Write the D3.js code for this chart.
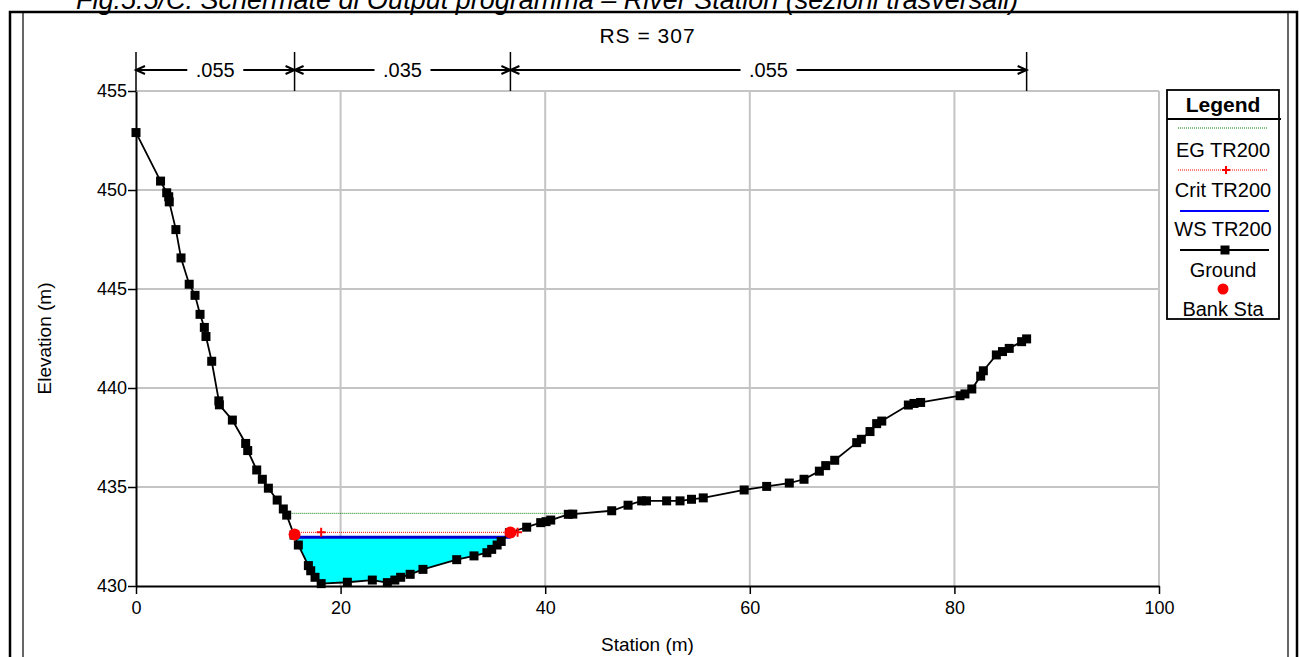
<!DOCTYPE html>
<html>
<head>
<meta charset="utf-8">
<script src="https://cdn.jsdelivr.net/npm/d3@7"></script>
<style>
  body { margin: 0; background: #fff; }
  text { font-family: Arial, "Liberation Sans", sans-serif; fill: #000; }
</style>
</head>
<body>
<div id="container"></div>
<script>
const w = 1299,
  h = 657;

// ground profile
const groundSta = [0, 2.4, 3.0, 3.2, 3.25, 3.9, 4.4, 5.2, 5.77, 6.26, 6.68, 6.84, 7.4, 8.1, 8.15,
  9.42, 10.72, 10.92, 11.8, 12.35, 12.94, 13.8, 14.4, 14.73, 15.45, 15.87, 16.85, 17.08, 17.5,
  18.1, 20.66, 23.1, 24.57, 25.3, 25.87, 26.8, 28.05, 31.35, 33.04, 34.3, 34.77, 35.3, 35.7,
  36.5, 38.19, 39.56, 40.08, 40.54, 42.26, 42.7, 46.5, 48.1, 49.43, 49.9, 51.87, 53.18, 54.3,
  55.45, 59.45, 61.65, 63.86, 65.3, 66.8, 67.42, 68.3, 70.45, 70.9, 71.75, 72.4, 72.9, 75.5,
  76.05, 76.7, 80.55, 81.03, 81.7, 82.57, 82.83, 84.1, 84.7, 85.36, 86.57, 87.06];
const groundElev = [452.9, 450.45, 449.86, 449.66, 449.4, 448.0, 446.57, 445.24, 444.68, 443.72,
  443.06, 442.6, 441.35, 439.35, 439.15, 438.38, 437.2, 436.84, 435.86, 435.39, 434.94, 434.34,
  433.89, 433.58, 432.57, 432.07, 431.03, 430.77, 430.44, 430.12, 430.19, 430.3, 430.17, 430.3,
  430.44, 430.59, 430.84, 431.33, 431.52, 431.68, 431.85, 432.07, 432.25, 432.69, 432.97, 433.2,
  433.25, 433.33, 433.62, 433.63, 433.8, 434.08, 434.3, 434.3, 434.3, 434.3, 434.38, 434.45,
  434.85, 435.03, 435.2, 435.39, 435.8, 436.08, 436.35, 437.24, 437.41, 437.8, 438.2, 438.33,
  439.14, 439.22, 439.27, 439.61, 439.7, 439.95, 440.6, 440.87, 441.67, 441.84, 442.0, 442.34,
  442.48];

const bankSta = [15.5, 36.6];
const bankElev = [432.6, 432.7];
const wsElev = 432.46;
const critElev = 432.71;
const egElev = 433.67;
const critMarks = [18.1, 37.3];

const nBreaks = [0, 15.5, 36.6, 87.06];
const nValues = ['.055', '.035', '.055'];

const xTicks = [0, 20, 40, 60, 80, 100];
const yTicks = [430, 435, 440, 445, 450, 455];

const legendNames = ['EG TR200', 'Crit TR200', 'WS TR200', 'Ground', 'Bank Sta'];

const ground = groundSta.map((s, i) => [s, groundElev[i]]);

const svg = d3.select('#container').append('svg').attr('width', w).attr('height', h);

const x = d3.scaleLinear().domain([0, 100]).range([136, 1159]);
const y = d3.scaleLinear().domain([430, 455]).range([586, 91]);

// caption above the frame (cut at the top, as in the scan)
svg.append('text')
  .text('Fig.5.5/C. Schermate di Output programma \u2013 River Station (sezioni trasversali)')
  .attr('x', 76)
  .attr('y', 9)
  .attr('font-size', 27)
  .attr('font-style', 'italic');

// frame
svg.append('path')
  .attr('d', 'M10,680 V12 H1297 V680')
  .attr('fill', 'none')
  .attr('stroke', '#000')
  .attr('stroke-width', 2.5);
svg.append('line').attr('x1', 23).attr('x2', 23).attr('y1', 12).attr('y2', 680)
  .attr('stroke', '#000').attr('stroke-width', 1.2);
svg.append('line').attr('x1', 1288).attr('x2', 1288).attr('y1', 12).attr('y2', 680)
  .attr('stroke', '#000').attr('stroke-width', 1.2);

svg.append('text')
  .text('RS = 307')
  .attr('x', x(50))
  .attr('y', 43)
  .attr('text-anchor', 'middle')
  .attr('font-size', 21)
  .attr('letter-spacing', 1);

// grid
const grid = svg.append('g').attr('stroke', '#c4c4c4').attr('stroke-width', 2);
xTicks.filter((d) => d > 0).forEach((d) => {
  grid.append('line').attr('x1', x(d)).attr('x2', x(d)).attr('y1', y(455)).attr('y2', y(430));
});
yTicks.filter((d) => d > 430).forEach((d) => {
  grid.append('line').attr('x1', x(0)).attr('x2', x(100)).attr('y1', y(d)).attr('y2', y(d));
});

// water fill: clip region above the ground
const aboveGround = ground.concat([[ground[ground.length - 1][0], 460], [ground[0][0], 460]]);
svg.append('clipPath')
  .attr('id', 'above')
  .append('path')
  .attr('d', d3.line().x((d) => x(d[0])).y((d) => y(d[1]))(aboveGround) + 'Z');

svg.append('rect')
  .attr('clip-path', 'url(#above)')
  .attr('x', x(bankSta[0]))
  .attr('width', x(bankSta[1]) - x(bankSta[0]))
  .attr('y', y(wsElev))
  .attr('height', y(430) - y(wsElev))
  .attr('fill', '#00ffff');

function crossings(level) {
  let left = null,
    right = null;
  for (let i = 0; i < ground.length - 1; i++) {
    const a = ground[i],
      b = ground[i + 1];
    if (left === null && a[1] >= level && b[1] < level) {
      left = a[0] + ((b[0] - a[0]) * (a[1] - level)) / (a[1] - b[1]);
    }
    if (a[1] < level && b[1] >= level) {
      right = a[0] + ((b[0] - a[0]) * (level - a[1])) / (b[1] - a[1]);
    }
  }
  return [left, right];
}

// EG line
const eg = crossings(egElev);
svg.append('line')
  .attr('x1', x(eg[0])).attr('x2', x(eg[1]))
  .attr('y1', y(egElev)).attr('y2', y(egElev))
  .attr('stroke', '#008000')
  .attr('stroke-width', 1)
  .attr('stroke-dasharray', '1,1');

// critical line
const crit = crossings(critElev);
svg.append('line')
  .attr('x1', x(crit[0])).attr('x2', x(critMarks[1]))
  .attr('y1', y(critElev)).attr('y2', y(critElev))
  .attr('stroke', '#ff0000')
  .attr('stroke-width', 1)
  .attr('stroke-dasharray', '1,1');

// water surface
svg.append('line')
  .attr('x1', x(bankSta[0])).attr('x2', x(bankSta[1]))
  .attr('y1', y(wsElev)).attr('y2', y(wsElev))
  .attr('stroke', '#0000d0')
  .attr('stroke-width', 3);

// ground
svg.append('path')
  .datum(ground)
  .attr('d', d3.line().x((d) => x(d[0])).y((d) => y(d[1])))
  .attr('fill', 'none')
  .attr('stroke', '#000')
  .attr('stroke-width', 1.8);

svg.selectAll('rect.pt')
  .data(ground)
  .enter()
  .append('rect')
  .attr('class', 'pt')
  .attr('x', (d) => x(d[0]) - 4.5)
  .attr('y', (d) => y(d[1]) - 4.5)
  .attr('width', 9)
  .attr('height', 9)
  .attr('fill', '#000');

// crit markers
function cross(g, cx, cy, s) {
  g.append('path')
    .attr('d', `M${cx - s},${cy} H${cx + s} M${cx},${cy - s} V${cy + s}`)
    .attr('stroke', '#ff0000')
    .attr('stroke-width', 2);
}
critMarks.forEach((s) => cross(svg, x(s), y(critElev), 4.5));

// bank stations
svg.selectAll('circle.bank')
  .data(bankSta)
  .enter()
  .append('circle')
  .attr('class', 'bank')
  .attr('cx', (d) => x(d))
  .attr('cy', (d, i) => y(bankElev[i]))
  .attr('r', 6)
  .attr('fill', '#ff0000');

// axes
const xAxis = svg.append('g').attr('transform', 'translate(0,' + y(430) + ')');
xAxis.call(d3.axisBottom(x).tickValues(d3.range(0, 101, 4)).tickSize(5).tickFormat(''));
xAxis.call(d3.axisBottom(x).tickValues(xTicks).tickSize(8).tickSizeOuter(0));
xAxis.selectAll('path').attr('stroke-width', 2);
xAxis.selectAll('line').attr('stroke-width', 1.5);
xAxis.selectAll('text').attr('font-size', 18).attr('font-family', 'Arial, "Liberation Sans"').attr('dy', '0.95em');

const yAxis = svg.append('g').attr('transform', 'translate(' + x(0) + ',0)');
yAxis.call(d3.axisLeft(y).tickValues(d3.range(430, 455.5, 1)).tickSize(5).tickFormat(''));
yAxis.call(d3.axisLeft(y).tickValues(yTicks).tickSize(8).tickSizeOuter(0));
yAxis.selectAll('path').attr('stroke-width', 2);
yAxis.selectAll('line').attr('stroke-width', 1.5);
yAxis.selectAll('text').attr('font-size', 18).attr('font-family', 'Arial, "Liberation Sans"').attr('x', -9);

svg.append('text')
  .text('Station (m)')
  .attr('x', x(50))
  .attr('y', 651)
  .attr('text-anchor', 'middle')
  .attr('font-size', 19);

svg.append('text')
  .text('Elevation (m)')
  .attr('transform', 'translate(51,' + y(442.5) + ') rotate(-90)')
  .attr('text-anchor', 'middle')
  .attr('font-size', 19);

// Manning n bar
const nY = 70;
const nBar = svg.append('g');
nBreaks.forEach((s) => {
  nBar.append('line').attr('x1', x(s)).attr('x2', x(s)).attr('y1', 52).attr('y2', y(455))
    .attr('stroke', '#000').attr('stroke-width', 1.5);
});
function arrowHead(g, px, dir) {
  g.append('path')
    .attr('d', `M${px + dir * 9},${nY - 4} L${px},${nY} L${px + dir * 9},${nY + 4}`)
    .attr('fill', 'none')
    .attr('stroke', '#000')
    .attr('stroke-width', 2);
}
nValues.forEach((v, i) => {
  const a = x(nBreaks[i]),
    b = x(nBreaks[i + 1]),
    m = (a + b) / 2;
  nBar.append('line').attr('x1', a).attr('x2', m - 28).attr('y1', nY).attr('y2', nY)
    .attr('stroke', '#000').attr('stroke-width', 2);
  nBar.append('line').attr('x1', m + 28).attr('x2', b).attr('y1', nY).attr('y2', nY)
    .attr('stroke', '#000').attr('stroke-width', 2);
  arrowHead(nBar, a, 1);
  arrowHead(nBar, b, -1);
  nBar.append('text')
    .text(v)
    .attr('x', m)
    .attr('y', nY + 7)
    .attr('text-anchor', 'middle')
    .attr('font-size', 20);
});

// legend
const lg = svg.append('g');
const lx0 = 1167,
  lx1 = 1279,
  lcx = (lx0 + lx1) / 2;
lg.append('rect').attr('x', lx0).attr('y', 90).attr('width', lx1 - lx0).attr('height', 229)
  .attr('fill', '#fff').attr('stroke', '#000').attr('stroke-width', 1.8);
lg.append('line').attr('x1', lx0).attr('x2', lx1 + 2).attr('y1', 119).attr('y2', 119)
  .attr('stroke', '#000').attr('stroke-width', 1.8);
lg.append('text').text('Legend').attr('x', lcx).attr('y', 112)
  .attr('text-anchor', 'middle').attr('font-size', 21).attr('font-weight', 'bold');

const symY = [128, 170, 211, 250, 289];
const txtY = [157, 197, 236, 277, 316];
lg.append('line').attr('x1', 1178).attr('x2', 1267).attr('y1', symY[0]).attr('y2', symY[0])
  .attr('stroke', '#008000').attr('stroke-dasharray', '1,1');
lg.append('line').attr('x1', 1178).attr('x2', 1267).attr('y1', symY[1]).attr('y2', symY[1])
  .attr('stroke', '#ff0000').attr('stroke-dasharray', '1,1');
cross(lg, 1226, symY[1], 4);
lg.append('line').attr('x1', 1180).attr('x2', 1269).attr('y1', symY[2]).attr('y2', symY[2])
  .attr('stroke', '#0000ff').attr('stroke-width', 2);
lg.append('line').attr('x1', 1180).attr('x2', 1269).attr('y1', symY[3]).attr('y2', symY[3])
  .attr('stroke', '#000').attr('stroke-width', 1.8);
lg.append('rect').attr('x', 1225 - 4.5).attr('y', symY[3] - 4.5).attr('width', 9).attr('height', 9)
  .attr('fill', '#000');
lg.append('circle').attr('cx', 1223).attr('cy', symY[4]).attr('r', 5.5).attr('fill', '#ff0000');
legendNames.forEach((n, i) => {
  lg.append('text').text(n).attr('x', lcx).attr('y', txtY[i])
    .attr('text-anchor', 'middle').attr('font-size', 20);
});
</script>
</body>
</html>
